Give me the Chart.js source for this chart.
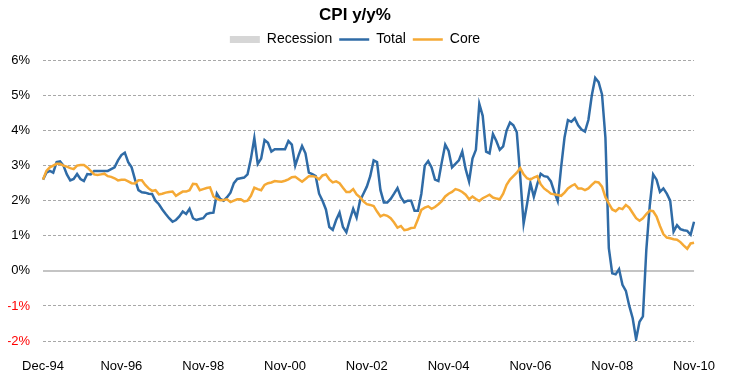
<!DOCTYPE html>
<html>
<head>
<meta charset="utf-8">
<script src="https://cdn.jsdelivr.net/npm/chart.js@4.4.0/dist/chart.umd.min.js"></script>
<style>
html,body{margin:0;padding:0;background:#fff;}
#wrap{width:733px;height:381px;position:relative;}
</style>
</head>
<body>
<div id="wrap"><canvas id="c"></canvas></div>
<script>
// Month categories Dec-94 .. Nov-10
const monthNames = ['Jan','Feb','Mar','Apr','May','Jun','Jul','Aug','Sep','Oct','Nov','Dec'];
const categories = [];
for (let k = 0; k < 192; k++) {
  const m = (11 + k) % 12;
  const y = 94 + Math.floor((11 + k) / 12);
  categories.push(monthNames[m] + '-' + String(y % 100).padStart(2, '0'));
}
const xTickLabels = ['Dec-94','Nov-96','Nov-98','Nov-00','Nov-02','Nov-04','Nov-06','Nov-08','Nov-10'];
const yTickValues = [-2,-1,0,1,2,3,4,5,6];

const recession = [];

const totalCPI = [
  2.6, 2.8, 2.85, 2.8, 3.1, 3.12, 3.0, 2.75, 2.58, 2.62, 2.76, 2.62,
  2.56, 2.76, 2.75, 2.85, 2.85, 2.85, 2.85, 2.85, 2.9, 2.95, 3.15, 3.3,
  3.37, 3.1, 2.95, 2.6, 2.3, 2.24, 2.23, 2.2, 2.19, 2.0, 1.9, 1.75,
  1.62, 1.5, 1.4, 1.45, 1.55, 1.69, 1.62, 1.77, 1.5, 1.45, 1.48, 1.5,
  1.62, 1.65, 1.66, 2.2, 2.05, 2.0, 2.1, 2.23, 2.5, 2.62, 2.64, 2.66,
  2.75, 3.2, 3.79, 3.05, 3.2, 3.73, 3.65, 3.4, 3.47, 3.47, 3.47, 3.47,
  3.7, 3.6, 3.0, 3.3, 3.56, 3.35, 2.8, 2.76, 2.7, 2.2, 2.0, 1.75,
  1.25, 1.17, 1.45, 1.66, 1.25, 1.1, 1.45, 1.77, 1.52, 2.0, 2.2, 2.4,
  2.7, 3.15, 3.1, 2.3, 1.95, 1.95, 2.05, 2.2, 2.36, 2.1, 1.95, 2.0,
  2.0, 1.71, 1.71, 2.2, 3.0, 3.13, 2.95, 2.6, 2.56, 3.1, 3.6, 3.42,
  2.95, 3.05, 3.15, 3.4, 2.9, 2.55, 3.2, 3.45, 4.76, 4.42, 3.4, 3.35,
  3.9, 3.7, 3.45, 3.55, 4.0, 4.23, 4.15, 3.95, 2.7, 1.35, 1.9, 2.5,
  2.11, 2.47, 2.77, 2.7, 2.68, 2.55, 2.25, 1.99, 2.95, 3.8, 4.3, 4.25,
  4.35, 4.15, 4.03, 3.97, 4.3, 5.0, 5.5, 5.38, 5.03, 3.8, 0.65, -0.07,
  -0.1, 0.05, -0.4, -0.57, -1.0, -1.35, -1.95, -1.45, -1.3, 0.6, 1.85, 2.75,
  2.6, 2.25, 2.35, 2.2, 2.0, 1.12, 1.3, 1.19, 1.16, 1.14, 1.03, 1.4
];

const coreCPI = [
  2.6, 2.85, 2.95, 3.0, 3.05, 3.05, 3.0, 2.97, 2.93, 2.9, 3.0, 3.02,
  3.02, 2.95, 2.85, 2.75, 2.73, 2.75, 2.77, 2.7, 2.68, 2.64, 2.58, 2.6,
  2.6, 2.55, 2.5, 2.49, 2.58, 2.58, 2.45, 2.35, 2.28, 2.3, 2.18, 2.2,
  2.23, 2.25, 2.26, 2.14, 2.2, 2.26, 2.26, 2.3, 2.48, 2.47, 2.3, 2.33,
  2.36, 2.38, 2.12, 2.05, 2.01, 2.02, 2.04, 1.96, 2.0, 2.04, 2.04, 1.98,
  2.0, 2.14, 2.37, 2.33, 2.3, 2.45, 2.5, 2.52, 2.56, 2.55, 2.54, 2.57,
  2.61, 2.67, 2.68, 2.61, 2.54, 2.62, 2.7, 2.7, 2.68, 2.61, 2.72, 2.75,
  2.61, 2.52, 2.55, 2.5, 2.37, 2.25, 2.25, 2.33, 2.18, 2.1, 1.98, 1.9,
  1.88, 1.85, 1.69, 1.55, 1.6, 1.57, 1.5, 1.38, 1.23, 1.28, 1.16, 1.18,
  1.22, 1.23, 1.47, 1.74, 1.8, 1.84, 1.77, 1.82, 1.9, 1.99, 2.12, 2.2,
  2.25, 2.33, 2.3, 2.25, 2.17, 2.04, 2.12, 2.05, 1.99, 2.07, 2.12, 2.17,
  2.09, 2.06, 2.04, 2.2, 2.45, 2.6, 2.7, 2.8, 2.93, 2.75, 2.64, 2.6,
  2.66, 2.7, 2.47, 2.35, 2.28, 2.2, 2.18, 2.16, 2.14, 2.23, 2.35, 2.42,
  2.47, 2.35, 2.35, 2.3, 2.35, 2.45, 2.54, 2.52, 2.4, 2.1, 1.92, 1.75,
  1.7, 1.79, 1.76, 1.88, 1.8, 1.65, 1.5, 1.43, 1.5, 1.62, 1.72, 1.7,
  1.55, 1.28, 1.05, 0.95, 0.93, 0.9, 0.89, 0.82, 0.72, 0.63, 0.78, 0.8
];

const COLORS = { recession: '#d6d6d6', total: '#2f6ba6', core: '#f5a935' };
const FONT = "'Liberation Sans', Arial, sans-serif";

// give the legend a little extra room below its items
const legendSpace = {
  id: 'legendSpace',
  beforeInit(chart) {
    const lg = chart.legend;
    if (!lg) return;
    const origFit = lg.fit;
    lg.fit = function () { origFit.call(this); this.height += 4; };
  }
};

new Chart(document.getElementById('c'), {
  type: 'line',
  plugins: [legendSpace],
  data: {
    labels: categories,
    datasets: [
      { label: 'Recession', data: recession, borderColor: COLORS.recession, backgroundColor: COLORS.recession, pointRadius: 0, borderWidth: 0, order: 3 },
      { label: 'Total', data: totalCPI, borderColor: COLORS.total, borderWidth: 2.5, pointRadius: 0, tension: 0, order: 2 },
      { label: 'Core', data: coreCPI, borderColor: COLORS.core, borderWidth: 2.5, pointRadius: 0, tension: 0, order: 1 }
    ]
  },
  options: {
    responsive: true,
    maintainAspectRatio: false,
    animation: false,
    layout: { padding: { left: 8, right: 31, top: 0, bottom: 0 } },
    plugins: {
      tooltip: { enabled: false },
      title: {
        display: true,
        text: 'CPI y/y%',
        color: '#000',
        font: { family: FONT, size: 17, weight: 'bold' },
        padding: { top: 5, bottom: 0 }
      },
      legend: {
        display: true,
        labels: {
          usePointStyle: true,
          pointStyleWidth: 30,
          boxHeight: 7,
          padding: 7,
          color: '#222',
          font: { family: FONT, size: 14 },
          generateLabels: (chart) => chart.data.datasets.map((ds, i) => ({
            text: ds.label,
            datasetIndex: i,
            fillStyle: i === 0 ? COLORS.recession : ds.borderColor,
            strokeStyle: i === 0 ? COLORS.recession : ds.borderColor,
            lineWidth: i === 0 ? 0 : 2.5,
            pointStyle: i === 0 ? 'rect' : 'line',
            hidden: false
          }))
        }
      }
    },
    scales: {
      x: {
        type: 'category',
        offset: false,
        grid: { display: false, drawTicks: false },
        border: { display: false },
        ticks: {
          autoSkip: false,
          maxRotation: 0,
          minRotation: 0,
          padding: 18,
          color: '#000',
          font: { family: FONT, size: 13 },
          callback: function (val) {
            const lab = this.getLabelForValue(val);
            return xTickLabels.includes(lab) ? lab : '';
          }
        },
        afterFit: (s) => { s.height = 40; }
      },
      y: {
        min: yTickValues[0],
        max: yTickValues[yTickValues.length - 1],
        afterBuildTicks: (s) => { s.ticks = yTickValues.map(v => ({ value: v })); },
        grid: {
          drawTicks: false,
          color: (ctx) => (ctx.tick && ctx.tick.value === 0) ? '#c4c4c4' : '#a8a8a8',
          lineWidth: (ctx) => (ctx.tick && ctx.tick.value === 0) ? 2 : 1
        },
        border: {
          display: false,
          dash: (ctx) => (ctx.tick && ctx.tick.value === 0) ? [] : [3, 2]
        },
        ticks: {
          padding: 13,
          color: (ctx) => (ctx.tick && ctx.tick.value < 0) ? '#ff0000' : '#000',
          font: { family: FONT, size: 13 },
          callback: (v) => v + '%'
        },
        afterFit: (s) => { s.width = 35; }
      }
    }
  }
});
</script>
</body>
</html>
